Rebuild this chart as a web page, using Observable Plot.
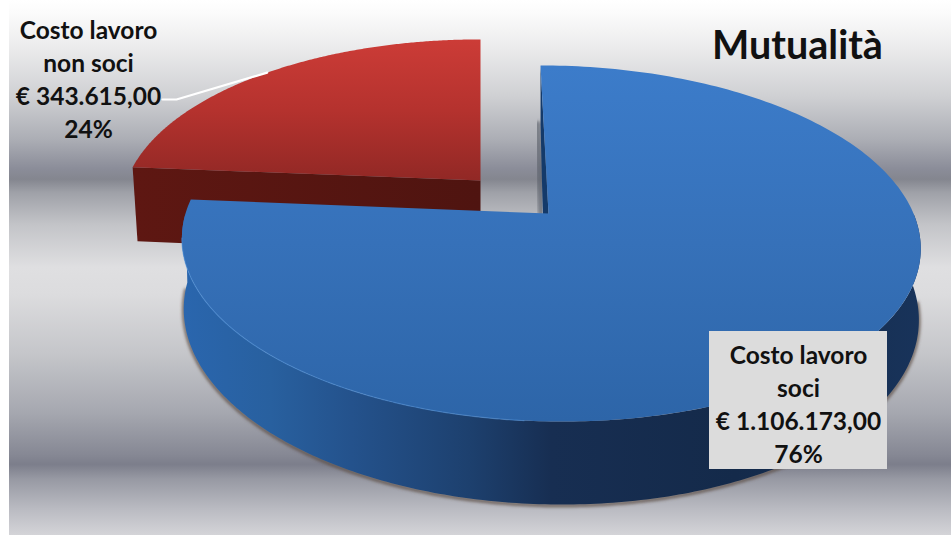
<!DOCTYPE html>
<html lang="it">
<head>
<meta charset="utf-8">
<title>Mutualità</title>
<script src="https://cdn.jsdelivr.net/npm/d3@7"></script>
<script src="https://cdn.jsdelivr.net/npm/@observablehq/plot@0.6"></script>
<style>
  html, body { margin: 0; padding: 0; background: #fff; }
  svg { display: block; }
</style>
</head>
<body>
<div id="chart"></div>
<script>
// Labour cost split for the mutuality statement
const chartTitle = "Mutualità";
const categories = ["Costo lavoro\nsoci", "Costo lavoro\nnon soci"];
const costs = [1106173, 343615];

const euro = d3.formatLocale({decimal: ",", thousands: ".", grouping: [3], currency: ["€", ""]}).format(",.2f");
const total = d3.sum(costs);
const labelFor = (i) => `${categories[i]}\n€ ${euro(costs[i])}\n${Math.round((costs[i] / total) * 100)}%`;

// Slice angles, clockwise from twelve o'clock
const [socAngles, nonAngles] = d3.pie().sort(null)(costs);

// Tilted-disc projection: rim points shrink toward the back of the disc
const depthK = 0.1685, radius = 364, tilt = 173;
function rim(disc, a, drop = 0) {
  const u = Math.sin(a), v = Math.cos(a), w = 1 + depthK * v;
  const spread = drop ? disc.narrow : 1;
  return {
    x: disc.cx + spread * disc.kx * (radius * u + disc.skew * v) / w,
    y: disc.cy - disc.ky * tilt * v / w + drop / w
  };
}
const centre = (disc, drop = 0) => ({x: disc.cx + disc.apex + (drop ? disc.apexDrop : 0), y: disc.cy + drop});
const arc = (disc, a0, a1, drop = 0) =>
  d3.range(0, 241).map((i) => rim(disc, a0 + (a1 - a0) * i / 240, drop));

const socDisc = {cx: 549, cy: 213, kx: 1, ky: 1, skew: -10.5, height: 69, narrow: 0.995, apex: -1, apexDrop: -4};
const nonDisc = {cx: 480, cy: 180, kx: 0.972, ky: 0.953, skew: 0, height: 75, narrow: 0.986, apex: 0, apexDrop: 0};
const rad = (d) => d * Math.PI / 180;

// Top faces
const socTop = [centre(socDisc), ...arc(socDisc, socAngles.startAngle, socAngles.endAngle)];
const nonTop = [centre(nonDisc), ...arc(nonDisc, nonAngles.startAngle, nonAngles.endAngle)];

// Curved front wall of the large slice, and its radial face in the gap
const socWall = [...arc(socDisc, rad(90), rad(270)), ...arc(socDisc, rad(270), rad(90), socDisc.height)];
const socBack = [centre(socDisc), rim(socDisc, 0), rim(socDisc, 0, socDisc.height), centre(socDisc, socDisc.height)];

// Straight front wall of the detached slice
const nonFront = [
  centre(nonDisc), rim(nonDisc, nonAngles.startAngle),
  rim(nonDisc, nonAngles.startAngle, nonDisc.height), centre(nonDisc, nonDisc.height)
];

// Soft contact shadows
const socShadow = arc(socDisc, rad(96), rad(268), socDisc.height).map((d) => ({x: d.x, y: d.y + 1}));
const socGapShadow = [rim(socDisc, 0, socDisc.height), {x: socDisc.cx - 5, y: 212}].map((d) => ({x: d.x - 3, y: d.y}));
const nonGapShadow = [rim(nonDisc, 0, nonDisc.height), {x: nonDisc.cx, y: 212}].map((d) => ({x: d.x + 3, y: d.y}));

// Callout from the red rim to its label
const nonMid = rim(nonDisc, (nonAngles.startAngle + nonAngles.endAngle) / 2);
const leader = [{x: 162, y: 99}, {x: 176, y: 99}, nonMid];

function linear(id, stops, horizontal = false) {
  const g = d3.create("svg:linearGradient").attr("id", id)
    .attr("x1", 0).attr("y1", 0).attr("x2", horizontal ? 1 : 0).attr("y2", horizontal ? 0 : 1);
  for (const [o, c] of stops) g.append("stop").attr("offset", o).attr("stop-color", c);
  return g.node();
}

function defs() {
  const d = d3.create("svg:defs");
  d.append(() => linear("backdrop", [
    [0, "#ffffff"], [0.025, "#fbfbfb"], [0.09, "#ebebec"], [0.18, "#cfd0d3"], [0.26, "#acaeb5"],
    [0.315, "#8b8d99"], [0.335, "#84868f"], [0.36, "#9fa1a8"], [0.42, "#c3c4c8"], [0.5, "#dfdfe1"],
    [0.55, "#dcdcde"], [0.66, "#c5c6ca"], [0.77, "#a6a8b0"], [0.85, "#868894"], [0.868, "#7c7e8b"],
    [0.895, "#9799a3"], [0.95, "#b9bac1"], [1, "#d4d4d8"]
  ]));
  d.append(() => linear("socTopFill", [[0, "#3c7cca"], [0.5, "#3671b9"], [1, "#2d65a8"]]));
  d.append(() => linear("nonTopFill", [[0, "#cc3c37"], [0.5, "#b5322e"], [1, "#912825"]]));
  d.append(() => linear("socWallFill", [
    [0, "#2a66ae"], [0.12, "#28609f"], [0.23, "#24528c"], [0.39, "#1d406e"], [0.5, "#172e52"], [0.75, "#142a4a"], [1, "#18335a"]
  ], true));
  d.append(() => linear("nonWallFill", [[0, "#5e1712"], [1, "#4f1410"]], true));
  d.append("filter").attr("id", "soft").attr("x", "-10%").attr("y", "-10%").attr("width", "120%").attr("height", "120%")
    .append("feGaussianBlur").attr("stdDeviation", 1.6);
  return d.node();
}

// Blurs the group a mark renders into
const blurred = (i, s, v, dim, ctx, next) => {
  const g = next(i, s, v, dim, ctx);
  g.setAttribute("filter", "url(#soft)");
  return g;
};

const polygon = (points, fill) => Plot.line(points, {x: "x", y: "y", fill, stroke: "none", curve: "linear-closed"});
const textStyle = {fontFamily: "Lato, Carlito, sans-serif", fontWeight: 700, fill: "#111", stroke: "none"};

const chart = Plot.plot({
  width: 951,
  height: 535,
  margin: 0,
  x: {domain: [0, 951], range: [0, 951], axis: null},
  y: {domain: [0, 535], range: [0, 535], axis: null},
  style: {background: "#fff"},
  marks: [
    defs,
    Plot.rect([{}], {x1: () => 9, x2: () => 951, y1: () => 0, y2: () => 535, fill: "url(#backdrop)"}),

    // Detached slice
    Plot.line(nonGapShadow, {x: "x", y: "y", stroke: "#7a4a40", strokeWidth: 6, strokeOpacity: 0.7, render: blurred}),
    polygon(nonFront, "url(#nonWallFill)"),
    polygon(nonTop, "url(#nonTopFill)"),
    Plot.line(leader, {x: "x", y: "y", stroke: "#fff", strokeWidth: 2.2}),

    // Main slice
    Plot.line(socGapShadow, {x: "x", y: "y", stroke: "#555a66", strokeWidth: 7, strokeOpacity: 0.6, render: blurred}),
    Plot.line(socShadow, {x: "x", y: "y", stroke: "#5a4a40", strokeWidth: 3.5, strokeOpacity: 0.75, render: blurred}),
    polygon(socBack, "#143a6a"),
    polygon(socWall, "url(#socWallFill)"),
    polygon(socTop, "url(#socTopFill)"),
    Plot.line(arc(socDisc, rad(185), rad(262)), {x: "x", y: "y", stroke: "#4f8fd8", strokeWidth: 1.2, strokeOpacity: 0.55}),

    // Labels
    Plot.rect([{}], {x1: () => 709, x2: () => 887, y1: () => 331, y2: () => 469, fill: "#dcdcdc"}),
    Plot.text([labelFor(1)], {x: () => 88, y: () => 77.5, text: (d) => d, fontSize: 24.5, lineHeight: 1.347, ...textStyle}),
    Plot.text([labelFor(0)], {x: () => 798, y: () => 402, text: (d) => d, fontSize: 24.5, lineHeight: 1.347, ...textStyle}),
    Plot.text([chartTitle], {x: () => 797, y: () => 46, text: (d) => d, fontSize: 39.5, ...textStyle})
  ]
});
document.getElementById("chart").append(chart);
</script>
</body>
</html>
